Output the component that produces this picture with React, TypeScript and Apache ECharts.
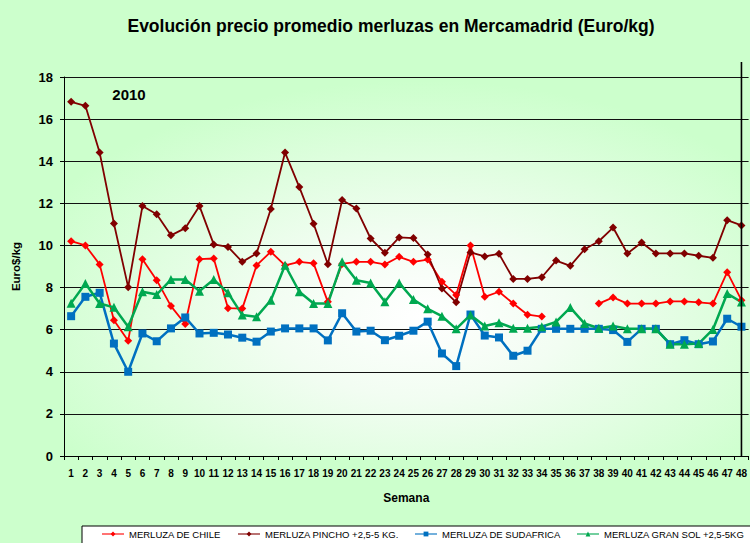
import React, { useEffect, useRef } from "react";
import * as echarts from "echarts";

const weeks = Array.from({ length: 48 }, (_, i) => String(i + 1));
const yTicks = { min: 0, max: 18, interval: 2 };

const seriesNames = [
  "MERLUZA DE CHILE",
  "MERLUZA PINCHO +2,5-5 KG.",
  "MERLUZA DE SUDAFRICA",
  "MERLUZA GRAN SOL +2,5-5KG",
];

const chile = [
  10.2, 10.0, 9.1, 6.45, 5.47, 9.35, 8.35, 7.12, 6.27, 9.35,
  9.38, 7.02, 7.0, 9.05, 9.7, 9.05, 9.22, 9.15, 7.32, 9.12,
  9.22, 9.22, 9.1, 9.46, 9.22, 9.33, 8.27, 7.65, 10.0, 7.56,
  7.8, 7.24, 6.71, 6.62, null, null, null, 7.24, 7.53, 7.24,
  7.24, 7.24, 7.34, 7.34, 7.3, 7.24, 8.73, 7.4,
];
const pincho = [
  16.82, 16.63, 14.41, 11.04, 8.02, 11.87, 11.48, 10.48, 10.82, 11.87,
  10.05, 9.93, 9.22, 9.62, 11.73, 14.41, 12.77, 11.03, 9.11, 12.16,
  11.75, 10.33, 9.65, 10.38, 10.35, 9.57, 7.96, 7.3, 9.67, 9.48,
  9.6, 8.41, 8.41, 8.49, 9.28, 9.03, 9.82, 10.2, 10.85, 9.62,
  10.14, 9.62, 9.62, 9.62, 9.51, 9.41, 11.2, 10.95,
];
const sudafrica = [
  6.64, 7.56, 7.75, 5.34, 4.0, 5.82, 5.45, 6.06, 6.58, 5.82,
  5.85, 5.77, 5.62, 5.43, 5.91, 6.06, 6.06, 6.06, 5.49, 6.78,
  5.91, 5.95, 5.5, 5.71, 5.95, 6.38, 4.87, 4.27, 6.72, 5.72,
  5.63, 4.76, 5.0, 6.04, 6.04, 6.04, 6.04, 6.04, 5.98, 5.42,
  6.04, 6.04, 5.31, 5.5, 5.31, 5.44, 6.52, 6.14,
];
const granSol = [
  7.26, 8.19, 7.24, 7.06, 6.14, 7.8, 7.67, 8.38, 8.38, 7.83,
  8.38, 7.75, 6.7, 6.61, 7.4, 9.06, 7.8, 7.24, 7.24, 9.22,
  8.35, 8.22, 7.32, 8.22, 7.43, 6.99, 6.64, 6.04, 6.7, 6.17,
  6.33, 6.07, 6.07, 6.14, 6.37, 7.05, 6.29, 6.07, 6.17, 6.04,
  6.04, 6.04, 5.31, 5.31, 5.34, 6.01, 7.72, 7.31,
];

const FONT = "'Liberation Sans', Arial, sans-serif";

export default function App() {
  const ref = useRef<HTMLDivElement>(null);
  useEffect(() => {
    if (!ref.current) return;
    const chart = echarts.init(ref.current, undefined, { renderer: "svg" });
    const gridLeft = 64;
    const gridTop = 77;
    const gridW = 686;
    const gridH = 379;
    const mk = (name: string, data: (number | null)[], color: string, symbol: string, size: number, width: number) => ({
      name,
      type: "line",
      data,
      symbol,
      symbolSize: size,
      showSymbol: true,
      connectNulls: false,
      lineStyle: { color, width },
      itemStyle: { color },
      emphasis: { disabled: true },
    });
    const legendBase = {
      top: 529,
      itemWidth: 22,
      itemHeight: 6,
      itemGap: 5,
      padding: 0,
      textStyle: { fontFamily: FONT, fontSize: 9.5, color: "#000" },
      lineStyle: { opacity: 0.55 },
      selectedMode: false,
    };
    chart.setOption({
      animation: false,
      backgroundColor: "#ccffcc",
      textStyle: { fontFamily: FONT },
      title: {
        text: "Evolución precio promedio merluzas en Mercamadrid (Euro/kg)",
        left: 386,
        top: 12,
        textAlign: "center",
        textStyle: { fontFamily: FONT, fontSize: 17.5, fontWeight: "bold", color: "#000" },
      },
      grid: { left: gridLeft, top: gridTop, width: gridW, height: gridH, containLabel: false },
      legend: seriesNames.map((n, i) => ({ ...legendBase, data: [n], left: [101, 237, 414, 576][i] })),
      xAxis: {
        type: "category",
        data: weeks,
        boundaryGap: true,
        name: "Semana",
        nameLocation: "middle",
        nameGap: 36,
        nameTextStyle: { fontFamily: FONT, fontSize: 12, fontWeight: "bold", color: "#000" },
        axisLine: { lineStyle: { color: "#000", width: 1 } },
        axisTick: { show: true, length: 4, lineStyle: { color: "#000" } },
        axisLabel: { interval: 0, margin: 12, fontFamily: FONT, fontSize: 10, fontWeight: "bold", color: "#000" },
        splitLine: { show: false },
      },
      yAxis: {
        type: "value",
        min: yTicks.min,
        max: yTicks.max,
        interval: yTicks.interval,
        name: "Euro$/kg",
        nameLocation: "middle",
        nameGap: 42,
        nameRotate: 90,
        nameTextStyle: { fontFamily: FONT, fontSize: 11.5, fontWeight: "bold", color: "#000" },
        axisLine: { show: true, lineStyle: { color: "#000", width: 1 } },
        axisTick: { show: true, length: 4, lineStyle: { color: "#000" } },
        axisLabel: { margin: 11, fontFamily: FONT, fontSize: 13, fontWeight: "bold", color: "#000" },
        splitLine: { show: true, lineStyle: { color: "#111", width: 1.2 } },
      },
      graphic: [
        {
          id: "plotbg",
          type: "rect",
          x: gridLeft,
          y: gridTop,
          scaleY: gridH / gridW,
          shape: { x: 0, y: 0, width: gridW, height: gridW },
          z: -10,
          silent: true,
          style: {
            fill: {
              type: "radial",
              x: 0.52,
              y: 0.63,
              r: 0.62,
              colorStops: [
                { offset: 0, color: "#ffffff" },
                { offset: 0.35, color: "#f2fdf2" },
                { offset: 1, color: "#ccffcc" },
              ],
            },
          },
        },
        {
          id: "box",
          type: "rect",
          shape: { x: 82, y: 526, width: 700, height: 40 },
          style: { fill: "#ffffff", stroke: "#000", lineWidth: 1 },
          z: 1,
          silent: true,
        },
        {
          type: "text",
          x: 129,
          y: 94,
          style: { text: "2010", font: `bold 15px ${FONT}`, fill: "#000", align: "center", verticalAlign: "middle" },
          z: 5,
        },
      ],
      series: [
        mk(seriesNames[0], chile, "#ff0000", "diamond", 8, 1.8),
        mk(seriesNames[1], pincho, "#800000", "diamond", 8, 1.8),
        mk(seriesNames[2], sudafrica, "#0070c0", "rect", 8, 2.5),
        mk(seriesNames[3], granSol, "#00a850", "triangle", 9, 2.5),
      ],
    });
    const px = chart.convertToPixel({ xAxisIndex: 0 }, weeks[47]) as number;
    const yb = chart.convertToPixel({ yAxisIndex: 0 }, 0) as number;
    chart.setOption({
      graphic: [
        {
          id: "vline",
          type: "line",
          shape: { x1: px, y1: 62, x2: px, y2: yb },
          style: { stroke: "#000", lineWidth: 1.6 },
          z: 6,
          silent: true,
        },
      ],
    });
    return () => chart.dispose();
  }, []);
  return <div ref={ref} style={{ position: "fixed", left: 0, top: 0, width: 750, height: 543 }} />;
}
